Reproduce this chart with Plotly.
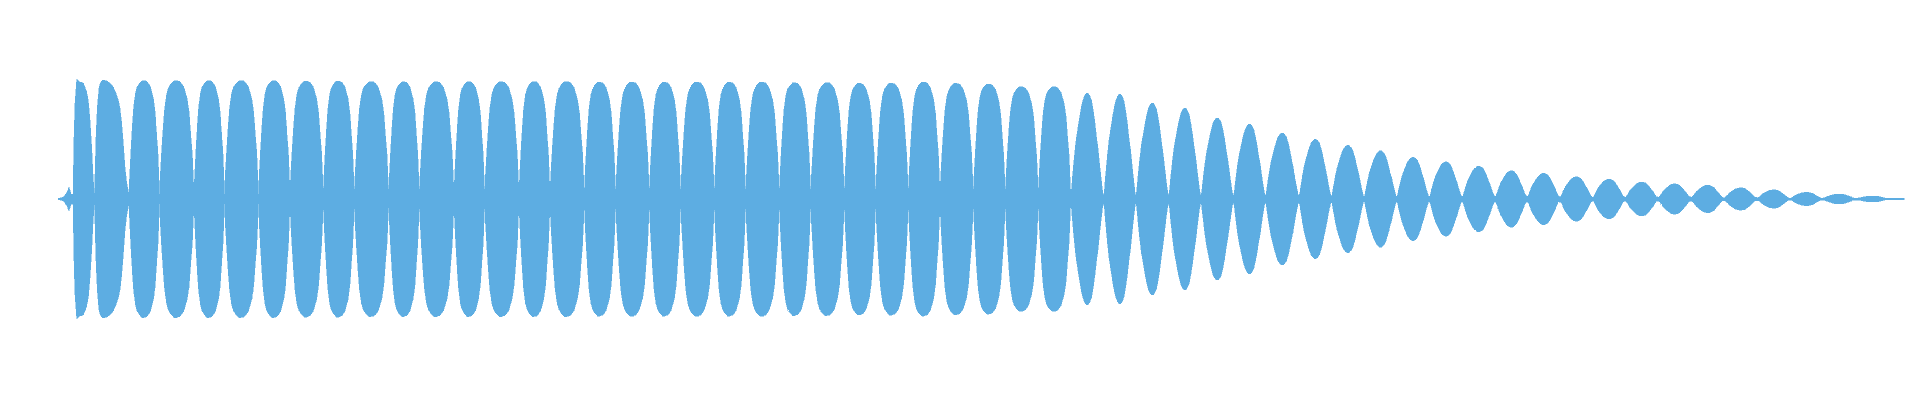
import plotly.graph_objects as go

# ---- data (x in time units, amplitude in same units) ----
# lead-in blip before the first lobe
lead_x = [57.7, 60, 63, 65, 67, 69, 70, 71, 72.3]
lead_amp = [0.7, 1, 2, 4, 7, 12, 9, 5, 5]

# first two lobes (irregular shapes)
first_x = [73, 74, 75, 76.7, 80, 83.3, 85, 86.7, 88.3, 90, 91.7, 93.3, 94.5,
           96, 97.3, 99, 100.7, 102.7, 106.7, 110, 113.3, 116.7, 118.3, 120,
           121.7, 123.3, 125, 126.7]
first_amp = [5, 62, 96, 119.7, 117, 116, 112, 107, 99, 79, 52, 19, 6,
             62, 92, 111, 117, 119, 118, 116, 112, 104, 99, 91,
             76, 56, 32, 16]

# zero crossings (lobe boundaries) from lobe 3 onward
zeros = [129, 159.5, 194, 224.5, 258.5, 290, 323.3, 354.3, 388.7, 419.3, 454, 484.7,
         519, 550, 584.3, 615.7, 649.3, 680.7, 714.3, 745.7, 779.3, 810.7, 844.3, 875.7,
         908.3, 940, 973.3, 1005.3, 1038.3, 1070.7, 1103.7, 1136, 1168.7, 1201, 1233.5,
         1265.5, 1299, 1331.5, 1364.2, 1396.8, 1429.3, 1462.3, 1495.3, 1527.3, 1560,
         1592.7, 1625.2, 1658.3, 1691.2, 1724, 1757.3, 1790, 1822.7, 1856, 1889.3]
# residual amplitude at each zero crossing
waist = [5, 5, 5, 5, 5, 5, 5, 5, 5, 5, 5, 5,
         5, 5, 5, 5, 5, 5, 5, 5, 5, 5, 5, 5,
         5, 5, 5, 5, 5, 5, 4.5, 4.5, 4.5, 4.5, 4,
         4, 4, 3.5, 3, 3, 3, 3, 3, 3, 2.5,
         2, 2, 2, 2, 1.5, 1.5, 1, 1, 1, 0.7]
# peak amplitude of each lobe between consecutive zeros
peaks = [118.5, 118.5, 118.5, 118.5, 118.5, 118, 118, 117.5, 117.5, 117.5, 117.5, 117.5,
         117.5, 117.5, 117, 117, 117, 117, 117, 117, 116.5, 116.5, 115.7, 116,
         117, 115.7, 115, 112.3, 112.3, 106.3, 105.3, 96.3, 91.3, 81.3, 75.3,
         66.3, 60, 54, 48.3, 42, 37.3, 33, 28.3, 25.7, 22.3,
         20, 17, 15.2, 13.8, 11.2, 9.2, 6.7, 5, 3]

# normalized lobe profiles (shape across one lobe)
full_f = [0.02, 0.065, 0.11, 0.15, 0.21, 0.26, 0.32, 0.42, 0.5, 0.6, 0.7, 0.8, 0.86, 0.91, 0.95, 0.98]
full_v = [0.19, 0.42, 0.62, 0.77, 0.89, 0.94, 0.97, 1.0, 1.0, 0.99, 0.95, 0.85, 0.73, 0.53, 0.39, 0.19]
decay_f = [0.02, 0.06, 0.11, 0.165, 0.22, 0.27, 0.32, 0.37, 0.42, 0.47, 0.53, 0.58, 0.63, 0.68,
           0.73, 0.78, 0.835, 0.89, 0.94, 0.98]
decay_v = [0.08, 0.23, 0.40, 0.56, 0.67, 0.77, 0.86, 0.93, 0.97, 0.995, 0.995, 0.97, 0.93, 0.84,
           0.73, 0.59, 0.46, 0.29, 0.15, 0.04]

# trailing tail after last lobe
tail_x = [1904]
tail_amp = [0.6]

# ---- build envelope ----
xs = list(lead_x) + list(first_x)
ys = list(lead_amp) + list(first_amp)
for i, a in enumerate(peaks):
    x0, x1 = zeros[i], zeros[i + 1]
    xs.append(x0)
    ys.append(waist[i])
    fr, pv = (full_f, full_v) if a >= 110 else (decay_f, decay_v)
    for f, p in zip(fr, pv):
        xs.append(x0 + f * (x1 - x0))
        ys.append(max(a * p, waist[i] if f < 0.5 else waist[i + 1]))
xs.append(zeros[-1])
ys.append(waist[-1])
xs += tail_x
ys += tail_amp

outline_x = xs + xs[::-1]
outline_y = ys + [-v for v in ys[::-1]]

color = "#5DADE2"
fig = go.Figure()
fig.add_trace(go.Scatter(x=outline_x, y=outline_y, mode="lines", fill="toself",
                         fillcolor=color,
                         line=dict(color=color, width=0.5, simplify=False),
                         hoverinfo="skip", showlegend=False))

fig.update_layout(width=1920, height=400, margin=dict(l=0, r=0, t=0, b=0),
                  paper_bgcolor="white", plot_bgcolor="white", showlegend=False)
fig.update_xaxes(range=[0, 1920], visible=False, fixedrange=True)
fig.update_yaxes(range=[-201, 199], visible=False, fixedrange=True)

post = ("document.body.style.margin='0px';"
        "document.querySelectorAll('.scatterlayer path').forEach(function(p){"
        "p.style.shapeRendering='crispEdges';});")
fig.write_html("out.html", config={"displayModeBar": False, "staticPlot": True},
               post_script=post)
